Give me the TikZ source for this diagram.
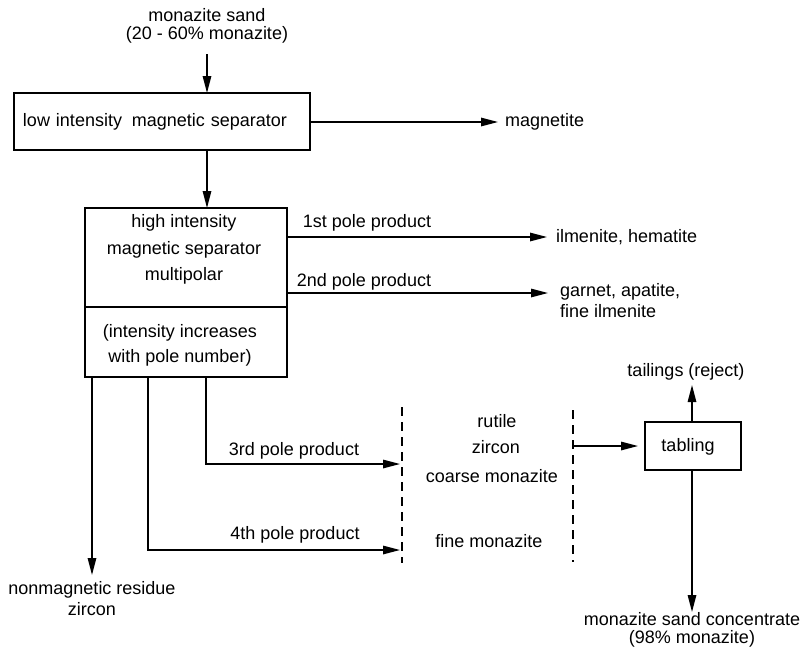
\documentclass[tikz,border=0pt]{standalone}
\usepackage{fontspec}
\setmainfont{Liberation Sans}
\usetikzlibrary{arrows.meta}
\begin{document}
\begin{tikzpicture}[x=1pt,y=-1pt,
  every node/.style={inner sep=0pt, outer sep=0pt, font=\fontsize{18}{18}\selectfont},
  box/.style={draw, line width=1.6pt},
  arr/.style={line width=1.4pt, -{Triangle[length=17pt,width=8.5pt]}},
  dashline/.style={line width=1.5pt, dash pattern=on 9pt off 6pt},
  txt/.style={align=center}]
\useasboundingbox (0,0) rectangle (800,651);

% feed
\node[txt] (src) at (207,26) {monazite sand\\(20 - 60\% monazite)};
\coordinate (a0) at (207,54);

% low intensity separator
\node[box, text width=278pt, inner xsep=9pt, inner ysep=0pt, minimum height=57pt, align=left]
  (lims) at (162,121.5) {low intensity\hspace{0.55em}magnetic separator};
\node[anchor=west, inner xsep=7pt] (mag) at (498,122) {magnetite};

\draw[arr] (a0) -- (a0 |- lims.north);
\draw[arr] (lims.east |- mag.west) -- (mag.west);

% high intensity separator
\node[box, minimum width=202pt, minimum height=99pt] (hiA) at (186,257.5) {};
\node[box, minimum width=202pt, minimum height=70pt] (hiB) at (186,342) {};
\node[txt, font=\fontsize{18}{26.5}\selectfont] (hiAtxt) at (184,249.5)
  {high intensity\\magnetic separator\\multipolar};
\node[txt, font=\fontsize{18}{25}\selectfont] (hiBtxt) at (180,345.5)
  {(intensity increases\\with pole number)};

\draw[arr] (lims.south -| a0) -- (hiA.north -| a0);

% 1st and 2nd pole products
\node[anchor=west, inner xsep=9pt] (ilm) at (547,237) {ilmenite, hematite};
\node (p1) at (367,223) {1st pole product};
\draw[arr] (hiA.east |- ilm.west) -- (ilm.west);

\node[anchor=west, align=left, font=\fontsize{18}{21}\selectfont] (gar) at (560,300.6)
  {garnet, apatite,\\fine ilmenite};
\coordinate (t2) at (548,293);
\node (p2) at (364,282) {2nd pole product};
\draw[arr] (hiA.east |- t2) -- (t2);

% nonmagnetic residue
\node[txt, font=\fontsize{18}{21}\selectfont] (nmr) at (92,599)
  {nonmagnetic residue\\zircon};
\coordinate (e1) at (92,575);
\draw[arr] (hiB.south -| e1) -- (e1);

% 3rd and 4th pole products
\coordinate (c3) at (206,464);
\coordinate (e3) at (400,464);
\draw[arr] (hiB.south -| c3) -- (c3) -- (e3);
\node (p3) at (294,451) {3rd pole product};

\coordinate (c4) at (148,550);
\coordinate (e4) at (400,550);
\draw[arr] (hiB.south -| c4) -- (c4) -- (e4);
\node (p4) at (295,535) {4th pole product};

% dashed bracket
\coordinate (da1) at (402,407);
\coordinate (da2) at (402,563);
\coordinate (db1) at (573,410);
\coordinate (db2) at (573,562);
\draw[dashline] (da1) -- (da2);
\draw[dashline] (db1) -- (db2);

\node[anchor=base] (rut) at (497,427) {rutile};
\node[anchor=base] (zir) at (496,453) {zircon};
\node[anchor=base] (cmz) at (492,482) {coarse monazite};
\node[anchor=base] (fmz) at (489,547) {fine monazite};

% tabling
\node[box, minimum width=96pt, minimum height=48pt] (tab) at (693,446) {};
\node (tabt) at (688,447) {tabling};
\coordinate (t3) at (638,446);
\draw[arr] (db1 |- t3) -- (t3);

\node (tail) at (686,372) {tailings (reject)};
\coordinate (tt) at (692,385);
\draw[arr] (tab.north -| tt) -- (tt);

\node[txt] (conc) at (692,630) {monazite sand concentrate\\(98\% monazite)};
\coordinate (tb) at (692,612);
\draw[arr] (tab.south -| tb) -- (tb);
\end{tikzpicture}
\end{document}
